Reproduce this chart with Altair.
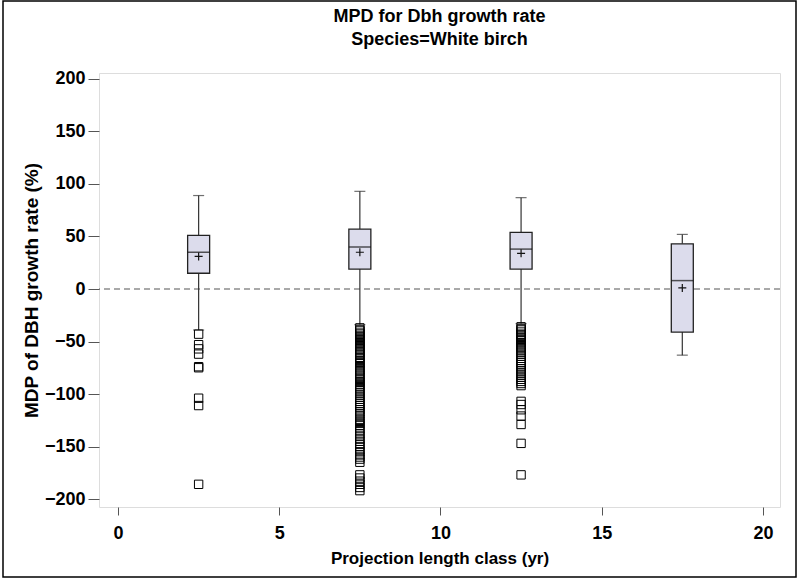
import altair as alt
import pandas as pd

# ---- data ----
classes = [2.5, 7.5, 12.5, 17.5]
whisk_hi = [89, 93, 87, 52]
q3 = [51, 57, 54, 43]
median = [35, 40, 38, 8]
mean = [31, 35, 34, 1]
q1 = [15, 19, 19, -41]
whisk_lo = [-39, -34, -33, -63]

out_c1 = [-43, -53, -57, -62, -74, -75, -104, -111, -186]
out_c2 = [-37, -39, -40, -42, -43, -45, -46, -48, -49, -51, -52, -54, -55, -57,
          -58, -60, -61, -63, -65, -66, -68, -70, -71, -73, -75, -77, -78, -80,
          -82, -84, -86, -88, -89, -91, -93, -95, -97, -99, -101, -103, -105,
          -107, -109, -111, -113, -115, -117, -119, -121, -124, -126, -128,
          -130, -133, -135, -138, -140, -143, -145, -148, -150, -153, -155,
          -158, -160, -162, -165, -177, -180, -183, -186, -189, -192]
out_c3 = [-36, -38, -39, -41, -43, -44, -46, -48, -49, -51, -53, -55, -56,
          -58, -60, -62, -64, -66, -68, -70, -72, -74, -76, -78, -80, -82,
          -84, -86, -88, -90, -92, -107, -110, -115, -121, -129, -147, -177]

x_ticks = [0, 5, 10, 15, 20]
y_ticks = [-200, -150, -100, -50, 0, 50, 100, 150, 200]

FONT = "Liberation Sans"

box_df = pd.DataFrame({"cls": classes, "hi": whisk_hi, "q3": q3, "med": median,
                       "mean": mean, "q1": q1, "lo": whisk_lo})
out_rows = []
for c, vals in zip(classes, [out_c1, out_c2, out_c3]):
    for v in vals:
        out_rows.append({"cls": c, "val": v})
out_df = pd.DataFrame(out_rows)

xscale = alt.Scale(domain=[-0.59, 20.53], nice=False, zero=False, padding=0)
yscale = alt.Scale(domain=[-207.6, 205.7], nice=False, zero=False, padding=0)

xaxis = alt.Axis(values=x_ticks, title="Projection length class (yr)", grid=False,
                 tickSize=8, tickColor="#555", domain=False, labelPadding=9,
                 labelFont=FONT, labelFontSize=18, labelFontWeight="bold", labelColor="black",
                 titleFont=FONT, titleFontSize=17, titleFontWeight="bold", titleColor="black",
                 titlePadding=8)
yaxis = alt.Axis(values=y_ticks, title="MDP of DBH growth rate (%)", grid=False,
                 tickSize=11, tickColor="#555", domain=False, labelPadding=3,
                 labelFont=FONT, labelFontSize=18, labelFontWeight="bold", labelColor="black",
                 titleFont=FONT, titleFontSize=19, titleFontWeight="bold", titleColor="black",
                 titlePadding=3)

base = alt.Chart(box_df)
X = alt.X("cls:Q", scale=xscale, axis=xaxis)

zero_line = alt.Chart(pd.DataFrame({"z": [0]})).mark_rule(
    color="#555", strokeDash=[6, 4], strokeWidth=1.2
).encode(y=alt.Y("z:Q", scale=yscale, axis=yaxis))

whisk_up = base.mark_rule(color="#333", strokeWidth=1.2).encode(
    x=X, y=alt.Y("q3:Q", scale=yscale, axis=yaxis), y2="hi:Q")
whisk_dn = base.mark_rule(color="#333", strokeWidth=1.2).encode(
    x=X, y=alt.Y("lo:Q", scale=yscale, axis=yaxis), y2="q1:Q")
cap_hi = base.mark_tick(orient="horizontal", size=11, thickness=1.2, color="#333").encode(
    x=X, y=alt.Y("hi:Q", scale=yscale, axis=yaxis))
cap_lo = base.mark_tick(orient="horizontal", size=11, thickness=1.2, color="#333").encode(
    x=X, y=alt.Y("lo:Q", scale=yscale, axis=yaxis))
box = base.mark_bar(size=22, fill="#DCDCEC", stroke="#222", strokeWidth=1.3).encode(
    x=X, y=alt.Y("q1:Q", scale=yscale, axis=yaxis), y2="q3:Q")
med = base.mark_tick(orient="horizontal", size=22, thickness=1.5, color="#111").encode(
    x=X, y=alt.Y("med:Q", scale=yscale, axis=yaxis))
mean_pt = base.mark_point(shape="M-1,0L1,0M0,-1L0,1", size=64, filled=False,
                          color="#111", strokeWidth=1.2, opacity=1).encode(
    x=X, y=alt.Y("mean:Q", scale=yscale, axis=yaxis))
outl = alt.Chart(out_df).mark_point(shape="square", size=70, filled=False,
                                     color="black", strokeWidth=1, opacity=1).encode(
    x=alt.X("cls:Q", scale=xscale, axis=xaxis),
    y=alt.Y("val:Q", scale=yscale, axis=yaxis))

border = alt.Chart(pd.DataFrame({"a": [0]})).mark_rect(
    filled=False, stroke="black", strokeWidth=1.5, clip=False
).encode(x=alt.value(-96), x2=alt.value(697), y=alt.value(-72), y2=alt.value(504))

chart = alt.layer(zero_line, whisk_up, whisk_dn, cap_hi, cap_lo, box, med, mean_pt,
                  outl, border).properties(
    width=681, height=434,
    title=alt.TitleParams(text=["MPD for Dbh growth rate", "Species=White birch"],
                          font=FONT, fontSize=18, fontWeight="bold", color="black",
                          anchor="middle", offset=-49, lineHeight=23),
    autosize=alt.AutoSizeParams(type="none"),
    padding={"left": 99, "top": 73, "right": 17, "bottom": 73},
).configure_view(stroke="#444", strokeWidth=1.3).configure(background="white")

chart.save("out.html", embed_options={"renderer": "svg", "actions": False})
